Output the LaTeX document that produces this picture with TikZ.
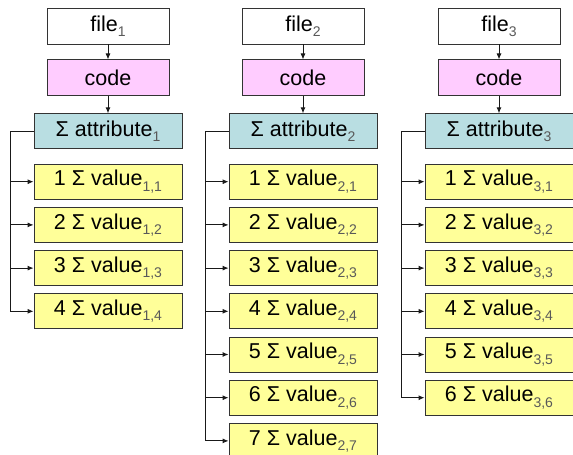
\documentclass[tikz,border=0pt]{standalone}
\usepackage{fontspec}
\setmainfont{Liberation Sans}
\usepackage{tikz}
\usetikzlibrary{arrows.meta, chains, positioning}

\definecolor{codepink}{RGB}{255,204,255}
\definecolor{attrcyan}{RGB}{185,222,226}
\definecolor{valyellow}{RGB}{255,255,153}
\newcommand{\lowidx}[1]{\raisebox{-0.25em}{\fontsize{14}{15}\selectfont\color{black!65}#1}}

\begin{document}
\begin{tikzpicture} [x=1pt, y=-1pt, node distance=7.3pt]
		    \tikzstyle{every path}=[line width=0.9pt]
		    \tikzstyle{box}=[draw=black!80, minimum height=35pt, inner sep=0pt,
		    font=\fontsize{21.5}{24}\selectfont]
		    \tikzstyle{filebox}=[box, fill=white, minimum width=122pt, minimum height=36pt]
		    \tikzstyle{codebox}=[box, fill=codepink, minimum width=122pt, minimum height=36pt]
		    \tikzstyle{attrbox}=[box, fill=attrcyan, minimum width=148pt]
		    \tikzstyle{valbox}=[box, fill=valyellow, minimum width=148pt]
		    \tikzstyle{link}=[-{Latex[length=6pt,width=5pt]}, black!90]
		    \useasboundingbox (0,0) rectangle (573,455);
		    % column 1
		    \node [filebox] at (108,26) (file1) {file\lowidx{1}};
		    \node [codebox,below=15pt of file1] (code1) {code};
		    \node [attrbox,below=17pt of code1] (attr1) {Σ attribute\lowidx{1}};
		    \begin{scope}[start chain=v1 going below]
		    \node [on chain=v1,valbox,below=14.5pt of attr1] (v11) {1 Σ value\lowidx{1,1}};
		    \node [on chain=v1,valbox] (v12) {2 Σ value\lowidx{1,2}};
		    \node [on chain=v1,valbox] (v13) {3 Σ value\lowidx{1,3}};
		    \node [on chain=v1,valbox] (v14) {4 Σ value\lowidx{1,4}};
		    \end{scope}
		    % column 2
		    \node [filebox] at (303,26) (file2) {file\lowidx{2}};
		    \node [codebox,below=15pt of file2] (code2) {code};
		    \node [attrbox,below=17pt of code2] (attr2) {Σ attribute\lowidx{2}};
		    \begin{scope}[start chain=v2 going below]
		    \node [on chain=v2,valbox,below=14.5pt of attr2] (v21) {1 Σ value\lowidx{2,1}};
		    \node [on chain=v2,valbox] (v22) {2 Σ value\lowidx{2,2}};
		    \node [on chain=v2,valbox] (v23) {3 Σ value\lowidx{2,3}};
		    \node [on chain=v2,valbox] (v24) {4 Σ value\lowidx{2,4}};
		    \node [on chain=v2,valbox] (v25) {5 Σ value\lowidx{2,5}};
		    \node [on chain=v2,valbox] (v26) {6 Σ value\lowidx{2,6}};
		    \node [on chain=v2,valbox] (v27) {7 Σ value\lowidx{2,7}};
		    \end{scope}
		    % column 3
		    \node [filebox] at (499,26) (file3) {file\lowidx{3}};
		    \node [codebox,below=15pt of file3] (code3) {code};
		    \node [attrbox,below=17pt of code3] (attr3) {Σ attribute\lowidx{3}};
		    \begin{scope}[start chain=v3 going below]
		    \node [on chain=v3,valbox,below=14.5pt of attr3] (v31) {1 Σ value\lowidx{3,1}};
		    \node [on chain=v3,valbox] (v32) {2 Σ value\lowidx{3,2}};
		    \node [on chain=v3,valbox] (v33) {3 Σ value\lowidx{3,3}};
		    \node [on chain=v3,valbox] (v34) {4 Σ value\lowidx{3,4}};
		    \node [on chain=v3,valbox] (v35) {5 Σ value\lowidx{3,5}};
		    \node [on chain=v3,valbox] (v36) {6 Σ value\lowidx{3,6}};
		    \end{scope}
		    % links
		    \draw [link] (file1) -- (code1);
		    \draw [link] (code1) -- (attr1);
		    \draw [link] (file2) -- (code2);
		    \draw [link] (code2) -- (attr2);
		    \draw [link] (file3) -- (code3);
		    \draw [link] (code3) -- (attr3);
		    \draw [link] (attr1.west) -- ++(-23,0) |- (v11);
		    \draw [link] (attr1.west) -- ++(-23,0) |- (v12);
		    \draw [link] (attr1.west) -- ++(-23,0) |- (v13);
		    \draw [link] (attr1.west) -- ++(-23,0) |- (v14);
		    \draw [link] (attr2.west) -- ++(-23,0) |- (v21);
		    \draw [link] (attr2.west) -- ++(-23,0) |- (v22);
		    \draw [link] (attr2.west) -- ++(-23,0) |- (v23);
		    \draw [link] (attr2.west) -- ++(-23,0) |- (v24);
		    \draw [link] (attr2.west) -- ++(-23,0) |- (v25);
		    \draw [link] (attr2.west) -- ++(-23,0) |- (v26);
		    \draw [link] (attr2.west) -- ++(-23,0) |- (v27);
		    \draw [link] (attr3.west) -- ++(-23,0) |- (v31);
		    \draw [link] (attr3.west) -- ++(-23,0) |- (v32);
		    \draw [link] (attr3.west) -- ++(-23,0) |- (v33);
		    \draw [link] (attr3.west) -- ++(-23,0) |- (v34);
		    \draw [link] (attr3.west) -- ++(-23,0) |- (v35);
		    \draw [link] (attr3.west) -- ++(-23,0) |- (v36);
	\end{tikzpicture}
\end{document}
